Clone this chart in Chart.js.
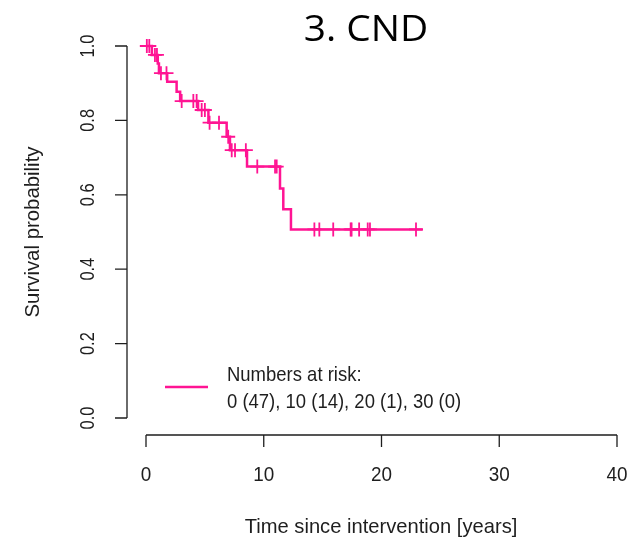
<!DOCTYPE html>
<html>
<head>
<meta charset="utf-8">
<script src="https://cdn.jsdelivr.net/npm/chart.js@4.4.0/dist/chart.umd.min.js"></script>
<style>
  html, body { margin: 0; padding: 0; background: #ffffff; }
  #wrap { width: 628px; height: 540px; }
</style>
</head>
<body>
<div id="wrap"><canvas id="km-chart" width="628" height="540"></canvas></div>
<script>
// Kaplan-Meier curve, group 3 (CND)
// ------------------------------
const chartTitle = "3. CND";
const xTitle = "Time since intervention [years]";
const yTitle = "Survival probability";
const xTicks = [0, 10, 20, 30, 40];
const yTicks = [0, 0.2, 0.4, 0.6, 0.8, 1.0];
const yTickLabels = ["0.0", "0.2", "0.4", "0.6", "0.8", "1.0"];

// step curve: time of each drop and the survival after it (last point = end of follow-up)
const stepTimes = [0, 0.5, 1.0, 1.1, 1.8, 2.6, 2.9, 4.42, 5.3, 6.85, 7.13, 8.58, 11.38, 11.66, 12.31, 23.5];
const stepSurv  = [1.0, 0.976, 0.953, 0.927, 0.904, 0.877, 0.852, 0.828, 0.794, 0.756, 0.720, 0.676, 0.617, 0.561, 0.507, 0.507];
// censored observations
const censorTimes = [0.07, 0.28, 0.76, 0.93, 1.27, 1.74, 3.03, 4.02, 4.3, 4.73, 5.0, 5.4, 6.2, 6.98,
                     7.28, 7.56, 8.48, 9.45, 10.96, 11.1, 14.3, 14.72, 15.9, 17.38, 17.46, 18.1, 18.83, 19.02, 22.93];

const riskTitle = "Numbers at risk:";
const riskTimes = [0, 10, 20, 30];
const riskCounts = [47, 14, 1, 0];

const curveColor = '#ff1493';
const inkColor = '#1e1e1e';

// survival at time t read from the step arrays
function survAt(t) {
    let s = stepSurv[0];
    for (let i = 0; i < stepTimes.length; i++) {
        if (stepTimes[i] <= t) s = stepSurv[i];
    }
    return s;
}

const curvePoints = stepTimes.map((t, i) => ({ x: t, y: stepSurv[i] }));
const censorPoints = censorTimes.map(t => ({ x: t, y: survAt(t) }));
const riskLabel = riskTimes.map((t, i) => t + " (" + riskCounts[i] + ")").join(", ");

// text helper: squeeze stretches along the text direction
function drawText(ctx, txt, x, y, font, rot, squeeze, align, baseline) {
    ctx.save();
    ctx.translate(x, y);
    ctx.rotate(rot);
    ctx.scale(squeeze, 1);
    ctx.font = font;
    ctx.textAlign = align || 'center';
    ctx.textBaseline = baseline || 'middle';
    ctx.fillText(txt, 0, 0);
    ctx.restore();
}
const rFont = "21px 'Liberation Sans', Arial, sans-serif";

// R style axes, legend and title drawn on top of the library scales
const rAxesPlugin = {
    id: 'rAxes',
    afterDraw(chart) {
        const ctx = chart.ctx;
        const xs = chart.scales.x;
        const ys = chart.scales.y;
        const axisX = 127, axisY = 435, tick = 12;

        ctx.save();
        ctx.strokeStyle = inkColor;
        ctx.fillStyle = inkColor;
        ctx.lineWidth = 1.3;

        // y axis
        ctx.beginPath();
        ctx.moveTo(axisX, ys.getPixelForValue(yTicks[0]));
        ctx.lineTo(axisX, ys.getPixelForValue(yTicks[yTicks.length - 1]));
        yTicks.forEach(v => {
            const py = ys.getPixelForValue(v);
            ctx.moveTo(axisX, py);
            ctx.lineTo(axisX - tick, py);
        });
        ctx.stroke();
        yTicks.forEach((v, i) => {
            drawText(ctx, yTickLabels[i], 88, ys.getPixelForValue(v), rFont, -Math.PI / 2, 0.78);
        });

        // x axis
        ctx.beginPath();
        ctx.moveTo(xs.getPixelForValue(xTicks[0]), axisY);
        ctx.lineTo(xs.getPixelForValue(xTicks[xTicks.length - 1]), axisY);
        xTicks.forEach(v => {
            const px = xs.getPixelForValue(v);
            ctx.moveTo(px, axisY);
            ctx.lineTo(px, axisY + tick);
        });
        ctx.stroke();
        xTicks.forEach(v => {
            drawText(ctx, String(v), xs.getPixelForValue(v), 475, rFont, 0, 0.9);
        });

        // axis titles
        drawText(ctx, xTitle, 381, 527, rFont, 0, 0.96);
        drawText(ctx, yTitle, 33, 232, rFont, -Math.PI / 2, 0.97);

        // legend
        ctx.strokeStyle = curveColor;
        ctx.lineWidth = 2.5;
        ctx.beginPath();
        ctx.moveTo(165, 387);
        ctx.lineTo(208, 387);
        ctx.stroke();
        drawText(ctx, riskTitle, 227, 375, rFont, 0, 0.88, 'left');
        drawText(ctx, riskLabel, 227, 402, rFont, 0, 0.88, 'left');

        // title
        ctx.fillStyle = '#000000';
        drawText(ctx, chartTitle, 366, 41, "36px 'Open Sans', sans-serif", 0, 1.08, 'center', 'alphabetic');
        ctx.restore();
    }
};

var ctx = document.getElementById("km-chart");

var chartOptions = {
    responsive: false,
    animation: false,
    devicePixelRatio: 1,
    layout: { padding: { left: 146, right: 11, top: 46, bottom: 122 } },
    plugins: {
        legend: { display: false },
        tooltip: { enabled: false }
    },
    scales: {
        x: { type: 'linear', min: 0, max: 40, display: false },
        y: { type: 'linear', min: 0, max: 1, display: false }
    }
};

var chartData = {
    datasets: [{
        label: "Survival",
        data: curvePoints,
        borderColor: curveColor,
        borderWidth: 2.5,
        stepped: true,
        pointRadius: 0,
        fill: false,
        clip: false
    }, {
        label: "Censored",
        type: 'scatter',
        data: censorPoints,
        pointStyle: 'cross',
        pointRadius: 7,
        pointBorderWidth: 1.8,
        pointBorderColor: curveColor,
        showLine: false,
        clip: false
    }]
};

var config = {
    type: 'line',
    options: chartOptions,
    data: chartData,
    plugins: [rAxesPlugin]
};

var kmChart = new Chart(ctx, config);
</script>
</body>
</html>
